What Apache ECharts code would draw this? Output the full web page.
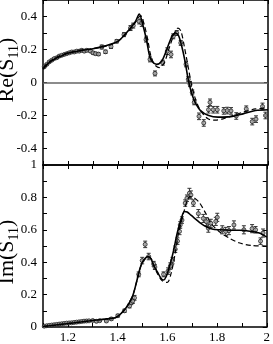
<!DOCTYPE html>
<html><head><meta charset="utf-8">
<script src="https://cdn.jsdelivr.net/npm/echarts@6/dist/echarts.min.js"></script>
<style>html,body{margin:0;padding:0;background:#fff}#c{width:273px;height:344px}</style>
</head><body><div id="c"></div>
<script>
// Re(S11) curves
const reSolidX = [1.10,1.12,1.15,1.18,1.20,1.25,1.30,1.35,1.40,1.43,1.45,1.47,1.485,1.50,1.515,1.525,1.535,1.555,1.575,1.595,1.615,1.63,1.642,1.655,1.668,1.68,1.69,1.70,1.71,1.73,1.76,1.80,1.85,1.90,1.95,2.00];
const reSolidY = [0.08,0.115,0.145,0.165,0.178,0.193,0.205,0.222,0.25,0.295,0.33,0.37,0.415,0.345,0.25,0.17,0.13,0.11,0.13,0.20,0.277,0.30,0.285,0.22,0.13,0.025,-0.04,-0.09,-0.125,-0.17,-0.198,-0.21,-0.207,-0.19,-0.17,-0.165];
const reDashX = [1.10,1.12,1.15,1.18,1.20,1.25,1.30,1.35,1.40,1.43,1.45,1.47,1.49,1.505,1.52,1.53,1.545,1.565,1.585,1.605,1.625,1.64,1.652,1.665,1.68,1.695,1.71,1.73,1.76,1.79,1.82,1.86,1.90,1.95,2.00];
const reDashY = [0.09,0.12,0.15,0.17,0.18,0.195,0.205,0.22,0.25,0.29,0.325,0.365,0.405,0.35,0.25,0.17,0.11,0.09,0.12,0.21,0.295,0.33,0.31,0.22,0.10,-0.02,-0.10,-0.17,-0.22,-0.228,-0.22,-0.20,-0.18,-0.16,-0.155];
// Re(S11) data points: x, value, error
const reDataX = [1.105,1.115,1.125,1.135,1.145,1.155,1.165,1.175,1.185,1.195,1.205,1.215,1.225,1.235,1.245,1.255,1.265,1.275,1.29,1.30,1.31,1.322,1.335,1.35,1.372,1.395,1.424,1.45,1.461,1.485,1.495,1.512,1.528,1.548,1.579,1.597,1.612,1.621,1.635,1.651,1.672,1.681,1.688,1.697,1.705,1.724,1.743,1.762,1.768,1.781,1.797,1.823,1.837,1.852,1.873,1.913,1.937,1.952,1.978,1.99];
const reDataY = [0.095,0.11,0.125,0.135,0.145,0.15,0.16,0.165,0.17,0.175,0.18,0.185,0.185,0.19,0.19,0.195,0.19,0.195,0.19,0.18,0.175,0.172,0.215,0.186,0.218,0.25,0.29,0.33,0.345,0.37,0.36,0.26,0.14,0.055,0.12,0.19,0.17,0.28,0.30,0.24,0.11,0.02,-0.01,-0.06,-0.12,-0.205,-0.245,-0.165,-0.12,-0.165,-0.165,-0.172,-0.17,-0.172,-0.203,-0.16,-0.237,-0.222,-0.145,-0.2];
const reDataE = [0.005,0.005,0.005,0.005,0.005,0.005,0.005,0.005,0.005,0.005,0.006,0.006,0.006,0.006,0.007,0.007,0.007,0.008,0.008,0.008,0.008,0.008,0.012,0.01,0.012,0.01,0.012,0.015,0.015,0.015,0.02,0.015,0.015,0.015,0.015,0.02,0.02,0.015,0.015,0.015,0.015,0.015,0.015,0.015,0.015,0.02,0.02,0.02,0.02,0.02,0.02,0.02,0.02,0.02,0.02,0.018,0.02,0.02,0.02,0.02];
// Im(S11) curves
const imSolidX = [1.10,1.15,1.22,1.30,1.355,1.395,1.435,1.46,1.475,1.488,1.50,1.515,1.525,1.535,1.545,1.56,1.575,1.585,1.595,1.61,1.625,1.64,1.655,1.668,1.68,1.695,1.715,1.735,1.755,1.78,1.81,1.85,1.89,1.94,1.97,2.00];
const imSolidY = [0.003,0.012,0.025,0.04,0.05,0.06,0.12,0.19,0.27,0.35,0.40,0.43,0.435,0.42,0.38,0.34,0.30,0.29,0.31,0.38,0.47,0.58,0.66,0.713,0.71,0.69,0.665,0.64,0.62,0.605,0.60,0.597,0.597,0.59,0.58,0.555];
const imDashX = [1.10,1.15,1.22,1.30,1.355,1.395,1.435,1.46,1.475,1.488,1.50,1.515,1.525,1.535,1.545,1.56,1.58,1.60,1.615,1.63,1.645,1.66,1.67,1.68,1.69,1.705,1.728,1.755,1.775,1.808,1.848,1.888,1.94,2.00];
const imDashY = [0.003,0.012,0.025,0.04,0.05,0.06,0.12,0.19,0.27,0.35,0.40,0.425,0.43,0.42,0.385,0.33,0.285,0.275,0.33,0.44,0.58,0.67,0.73,0.78,0.805,0.80,0.77,0.70,0.64,0.59,0.55,0.52,0.503,0.50];
// Im(S11) data points
const imDataX = [1.105,1.115,1.125,1.135,1.145,1.155,1.165,1.175,1.185,1.195,1.205,1.215,1.225,1.235,1.245,1.255,1.265,1.275,1.285,1.30,1.315,1.328,1.355,1.375,1.401,1.428,1.448,1.455,1.461,1.468,1.485,1.499,1.511,1.525,1.545,1.55,1.585,1.603,1.612,1.621,1.632,1.641,1.649,1.652,1.659,1.672,1.679,1.689,1.695,1.705,1.725,1.745,1.757,1.765,1.775,1.795,1.801,1.821,1.835,1.848,1.868,1.908,1.941,1.955,1.975,1.985];
const imDataY = [0.005,0.008,0.01,0.012,0.014,0.016,0.018,0.02,0.022,0.024,0.025,0.026,0.028,0.03,0.032,0.034,0.036,0.037,0.038,0.04,0.035,0.039,0.037,0.05,0.07,0.10,0.13,0.15,0.16,0.18,0.325,0.41,0.51,0.435,0.39,0.37,0.325,0.345,0.376,0.41,0.48,0.53,0.59,0.63,0.66,0.765,0.795,0.826,0.815,0.765,0.70,0.67,0.65,0.61,0.64,0.652,0.677,0.60,0.59,0.595,0.63,0.60,0.607,0.60,0.53,0.58];
const imDataE = [0.004,0.004,0.004,0.004,0.004,0.004,0.004,0.004,0.004,0.004,0.004,0.004,0.004,0.005,0.005,0.005,0.005,0.005,0.005,0.006,0.006,0.006,0.006,0.008,0.008,0.01,0.012,0.012,0.015,0.015,0.015,0.02,0.02,0.02,0.015,0.015,0.015,0.02,0.02,0.02,0.02,0.02,0.02,0.02,0.02,0.02,0.02,0.03,0.025,0.02,0.025,0.025,0.025,0.025,0.025,0.025,0.025,0.025,0.025,0.025,0.025,0.025,0.025,0.02,0.02,0.025];
// tick labels
const xTickLabels = ['1.2','1.4','1.6','1.8','2'];
const reTickLabels = ['-0.4','-0.2','0','0.2','0.4'];
const imTickLabels = ['0','0.2','0.4','0.6','0.8','1'];

const zip = (xs, ys) => xs.map((x, i) => [x, ys[i]]);
const zip3 = (xs, ys, es) => xs.map((x, i) => [x, ys[i], es[i]]);
const fmt = (list) => (v) => { const s = String(Math.round(v * 10) / 10); return list.indexOf(s) >= 0 ? s : ''; };
const font = 'Liberation Serif';

function xAx(grid, pos, labels) {
  return {
    type: 'value', gridIndex: grid, position: pos, min: 1.1, max: 2.0, interval: 0.1,
    axisLine: { show: true, onZero: false, lineStyle: { color: '#000', width: 1.5 } },
    axisTick: { show: true, inside: true, length: 4, lineStyle: { color: '#000', width: 1 } },
    axisLabel: { show: !!labels, formatter: labels ? fmt(labels) : '', color: '#000', fontFamily: font, fontSize: 13, margin: 4, showMinLabel: true, showMaxLabel: true },
    splitLine: { show: false }
  };
}
function yAx(grid, pos, min, max, labels) {
  return {
    type: 'value', gridIndex: grid, position: pos, min: min, max: max, interval: 0.1,
    axisLine: { show: true, onZero: false, lineStyle: { color: '#000', width: 1.5 } },
    axisTick: { show: true, inside: true, length: 4, lineStyle: { color: '#000', width: 1 } },
    axisLabel: { show: !!labels, formatter: labels ? fmt(labels) : '', color: '#000', fontFamily: font, fontSize: 13, margin: 6, showMinLabel: true, showMaxLabel: true },
    splitLine: { show: false }
  };
}
function errSeries(xi, yi, data) {
  return {
    type: 'custom', xAxisIndex: xi, yAxisIndex: yi, data: data, z: 3, silent: true,
    renderItem: function (params, api) {
      const x = api.value(0), y = api.value(1), e = api.value(2);
      const lo = api.coord([x, y - e]), hi = api.coord([x, y + e]);
      const st = { stroke: '#333', lineWidth: 1 };
      return { type: 'group', children: [
        { type: 'line', shape: { x1: lo[0], y1: lo[1], x2: hi[0], y2: hi[1] }, style: st },
        { type: 'line', shape: { x1: lo[0] - 2, y1: lo[1], x2: lo[0] + 2, y2: lo[1] }, style: st },
        { type: 'line', shape: { x1: hi[0] - 2, y1: hi[1], x2: hi[0] + 2, y2: hi[1] }, style: st }
      ] };
    }
  };
}
function ptSeries(xi, yi, data) {
  return { type: 'scatter', xAxisIndex: xi, yAxisIndex: yi, data: data, symbol: 'circle', symbolSize: 4, z: 4, silent: true,
    itemStyle: { color: '#aaa', borderColor: '#222', borderWidth: 1 } };
}
function lineSeries(xi, yi, data, dashed) {
  return { type: 'line', xAxisIndex: xi, yAxisIndex: yi, data: data, showSymbol: false, smooth: 0.3, z: 5, silent: true,
    lineStyle: { color: '#000', width: dashed ? 1.2 : 1.6, type: dashed ? [5, 3] : 'solid' } };
}
const rich = {
  a: { fontFamily: font, fontSize: 22, lineHeight: 26, verticalAlign: 'top', fill: '#000', color: '#000' },
  b: { fontFamily: font, fontSize: 14, lineHeight: 14, verticalAlign: 'top', padding: [11, 0, 0, 0], fill: '#000', color: '#000' }
};

const chart = echarts.init(document.getElementById('c'), null, { renderer: 'canvas' });
chart.setOption({
  animation: false,
  backgroundColor: '#fff',
  grid: [
    { left: 43, right: 5, top: 0, height: 165 },
    { left: 43, right: 5, top: 165, height: 163 }
  ],
  xAxis: [xAx(0, 'bottom', null), xAx(0, 'top', null), xAx(1, 'bottom', xTickLabels), xAx(1, 'top', null)],
  yAxis: [yAx(0, 'left', -0.5, 0.5, reTickLabels), yAx(0, 'right', -0.5, 0.5, null), yAx(1, 'left', 0, 1, imTickLabels), yAx(1, 'right', 0, 1, null)],
  graphic: [
    { type: 'text', x: 9, y: 70, rotation: Math.PI / 2, style: { text: '{a|Re(S}{b|11}{a|)}', rich: rich, align: 'center', verticalAlign: 'middle' } },
    { type: 'text', x: 9, y: 252, rotation: Math.PI / 2, style: { text: '{a|Im(S}{b|11}{a|)}', rich: rich, align: 'center', verticalAlign: 'middle' } }
  ],
  series: [
    Object.assign(lineSeries(0, 0, zip(reSolidX, reSolidY), false), {
      markLine: { silent: true, symbol: 'none', label: { show: false }, lineStyle: { color: '#666', width: 1.5, type: 'solid' }, data: [{ yAxis: 0 }] }
    }),
    lineSeries(0, 0, zip(reDashX, reDashY), true),
    errSeries(0, 0, zip3(reDataX, reDataY, reDataE)),
    ptSeries(0, 0, zip(reDataX, reDataY)),
    lineSeries(2, 2, zip(imSolidX, imSolidY), false),
    lineSeries(2, 2, zip(imDashX, imDashY), true),
    errSeries(2, 2, zip3(imDataX, imDataY, imDataE)),
    ptSeries(2, 2, zip(imDataX, imDataY))
  ]
});
</script></body></html>
